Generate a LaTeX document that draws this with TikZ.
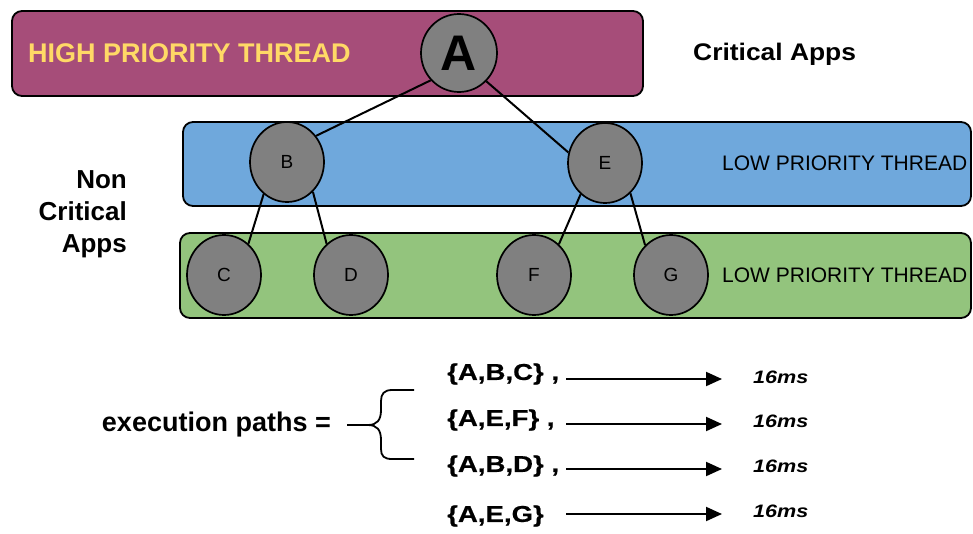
\documentclass[tikz,border=0pt]{standalone}
\usepackage{fontspec}
\setmainfont{Liberation Sans}
\newfontfamily\widefont[FakeStretch=1.2,FakeBold=0.6]{Liberation Sans}
\newfontfamily\midfont[FakeStretch=1.1]{Liberation Sans}
\newfontfamily\timefont[FakeStretch=1.2]{Liberation Sans}
\usetikzlibrary{arrows.meta,shapes.geometric}
\definecolor{hpcol}{HTML}{A64D79}
\definecolor{lpblue}{HTML}{6FA8DC}
\definecolor{lpgreen}{HTML}{93C47D}
\definecolor{hptext}{HTML}{FFD966}
\definecolor{nodegray}{HTML}{808080}
\tikzset{
  band/.style={draw=black, line width=1.8pt, rounded corners=10pt},
  tnode/.style={ellipse, draw=black, line width=1.7pt, fill=nodegray, minimum width=74pt, minimum height=80pt, inner sep=0pt, font=\fontsize{19}{22}\selectfont},
  edge/.style={draw=black, line width=2pt},
  lowlbl/.style={font=\fontsize{21}{24}\selectfont, anchor=west, inner sep=0pt},
  pathlbl/.style={font=\widefont\bfseries\fontsize{23}{26}\selectfont, anchor=west, inner sep=0pt},
  timelbl/.style={font=\timefont\bfseries\itshape\fontsize{18}{21}\selectfont, anchor=west, inner sep=0pt},
  parr/.style={line width=2pt, -{Triangle[length=16pt,width=14pt]}},
}
\begin{document}
\begin{tikzpicture}[x=1pt,y=-1pt]
\useasboundingbox (0,0) rectangle (973,533);
% bands
\draw[band, fill=hpcol] (12,11) rectangle (643,96);
\draw[band, fill=lpblue] (183,122) rectangle (971,206);
\draw[band, fill=lpgreen] (180,233) rectangle (971,318);
\node[font=\bfseries\fontsize{27}{30}\selectfont, text=hptext, anchor=west, inner sep=0pt] (hpt) at (28,53) {HIGH PRIORITY THREAD};
\node[lowlbl] (lpt1) at (722,163) {LOW PRIORITY THREAD};
\node[lowlbl] (lpt2) at (722,275) {LOW PRIORITY THREAD};
% side labels
\node[font=\midfont\bfseries\fontsize{24}{28}\selectfont, anchor=west, inner sep=0pt] (crit) at (693,54) {Critical Apps};
\node[anchor=east, align=right, inner sep=0pt, font=\bfseries\fontsize{26}{32}\selectfont] (noncrit) at (127,214) {Non\\Critical\\Apps};
% nodes
\node[tnode, minimum width=76pt, minimum height=78pt, font=\bfseries\fontsize{50}{50}\selectfont] (A) at (459,53) {A};
\node[tnode] (B) at (287,162) {B};
\node[tnode] (E) at (605,163) {E};
\node[tnode] (C) at (224,275) {C};
\node[tnode] (D) at (351,275) {D};
\node[tnode] (F) at (534,275) {F};
\node[tnode] (G) at (671,275) {G};
% edges
\draw[edge] (A.224) -- (B.42);
\draw[edge] (A.314) -- (E.164);
\draw[edge] (B.234) -- (C.52);
\draw[edge] (B.311) -- (D.128);
\draw[edge] (E.232) -- (F.51);
\draw[edge] (E.310) -- (G.131);
% execution paths
\node[font=\bfseries\fontsize{27}{30}\selectfont, anchor=east, inner sep=0pt] (ep) at (331,425) {execution paths =};
\coordinate (bt) at (347,425);
\draw[line width=1.8pt] (bt) -- (368,425) .. controls (377,425) and (381,420) .. (381,410) -- (381,401) .. controls (381,394) and (384,390) .. (392,390) -- (414,390);
\draw[line width=1.8pt] (368,425) .. controls (377,425) and (381,430) .. (381,440) -- (381,449) .. controls (381,456) and (384,459) .. (392,459) -- (414,459);
\node[pathlbl] (p1) at (447,374) {\{A,B,C\} ,};
\node[pathlbl] (p2) at (447,420) {\{A,E,F\} ,};
\node[pathlbl] (p3) at (447,466) {\{A,B,D\} ,};
\node[pathlbl] (p4) at (447,516) {\{A,E,G\}};
\coordinate (s1) at (566,379); \coordinate (e1) at (722,379);
\coordinate (s2) at (566,424); \coordinate (e2) at (722,424);
\coordinate (s3) at (566,469); \coordinate (e3) at (722,469);
\coordinate (s4) at (566,514); \coordinate (e4) at (722,514);
\draw[parr] (s1) -- (e1);
\draw[parr] (s2) -- (e2);
\draw[parr] (s3) -- (e3);
\draw[parr] (s4) -- (e4);
\node[timelbl] (t1) at (753,377) {16ms};
\node[timelbl] (t2) at (753,421) {16ms};
\node[timelbl] (t3) at (753,466) {16ms};
\node[timelbl] (t4) at (753,511) {16ms};
\end{tikzpicture}
\end{document}
